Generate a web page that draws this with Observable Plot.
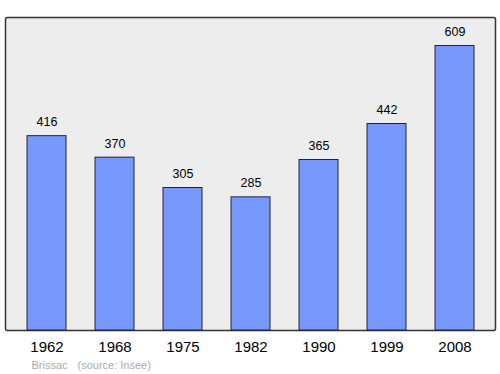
<!DOCTYPE html>
<html><head><meta charset="utf-8">
<script src="https://cdn.jsdelivr.net/npm/d3@7"></script>
<script src="https://cdn.jsdelivr.net/npm/@observablehq/plot@0.6"></script>
<style>body{margin:0;background:#fff}</style>
</head><body><div id="chart"></div>
<script>
const years = ["1962","1968","1975","1982","1990","1999","2008"];
const population = [416, 370, 305, 285, 365, 442, 609];
const place = "Brissac";
const source = "(source: Insee)";

const data = years.map((y, i) => ({year: y, pop: population[i]}));
const font = "Liberation Sans, Arial, sans-serif";

const chart = Plot.plot({
  width: 500, height: 374,
  marginLeft: 5, marginRight: 5, marginTop: 17, marginBottom: 44,
  style: {fontFamily: font, background: "#fff"},
  x: {domain: years, paddingInner: 0.43, paddingOuter: 0.3, axis: null},
  y: {domain: [0, 670], axis: null},
  marks: [
    Plot.frame({fill: "#ededed", stroke: "#333", strokeWidth: 1.5, rx: 2}),
    Plot.barY(data, {x: "year", y: "pop", fill: "#7799ff", stroke: "#223", strokeWidth: 1}),
    Plot.text(data, {x: "year", y: "pop", text: d => String(d.pop), dy: -14, fontSize: 12.5, fill: "#000"}),
    Plot.axisX({domain: years, tickSize: 0, tickPadding: 11, fontSize: 15, color: "#000", label: null}),
    Plot.text([place], {frameAnchor: "bottom-left", dx: 26, dy: 38, fontSize: 11, fill: "#aaa", textAnchor: "start"}),
    Plot.text([source], {frameAnchor: "bottom-left", dx: 72, dy: 38, fontSize: 11, fill: "#aaa", textAnchor: "start"})
  ]
});
document.getElementById("chart").append(chart);
</script></body></html>
